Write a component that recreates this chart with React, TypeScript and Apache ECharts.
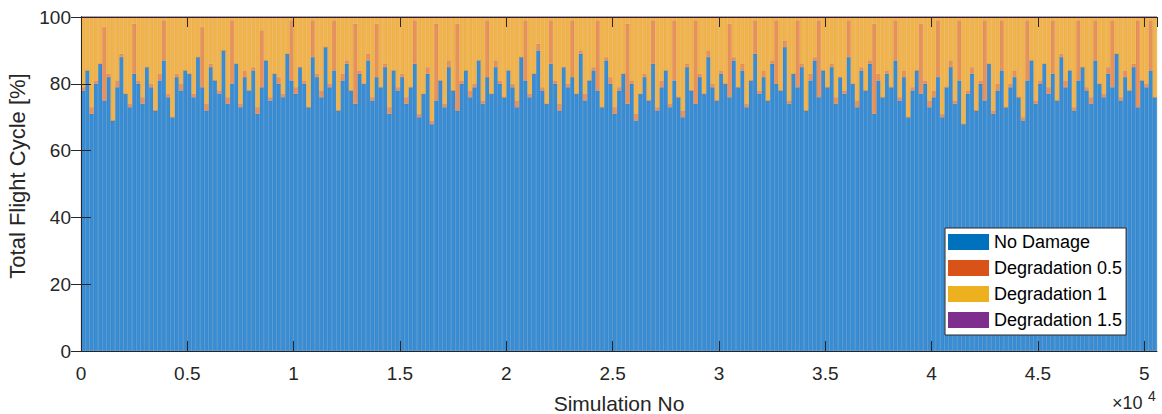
import React, { useEffect, useRef } from "react";
import * as echarts from "echarts";

// Each bar = one bin of 200 simulations (bin centre = simulation number)
const BIN_SIZE = 200;
const X_MAX = 50600;
const X_TICKS = [0, 5000, 10000, 15000, 20000, 25000, 30000, 35000, 40000, 45000, 50000];
const Y_TICKS = [0, 20, 40, 60, 80, 100];

const seriesNames = ["No Damage", "Degradation 0.5", "Degradation 1", "Degradation 1.5"];

// % of total flight cycles with no damage, per simulation bin
const noDamage = [
  78, 84, 71, 80, 86, 75, 82, 69, 79, 88, 77, 73, 83, 80, 74, 85, 79, 72, 81, 87, 76, 70, 82, 78, 84,
  83, 76, 88, 79, 72, 85, 81, 77, 90, 74, 80, 86, 73, 82, 78, 84, 71, 79, 87, 75, 83, 80, 76, 89, 81,
  77, 85, 80, 73, 88, 82, 76, 91, 79, 84, 72, 81, 86, 78, 74, 83, 80, 87, 75, 82, 79, 85, 71, 84, 78,
  82, 74, 79, 86, 70, 77, 83, 68, 75, 81, 73, 85, 78, 72, 80, 84, 76, 79, 87, 74, 82, 77, 85, 80, 76,
  84, 79, 73, 88, 81, 76, 83, 90, 78, 74, 86, 80, 72, 85, 79, 82, 77, 89, 75, 81, 84, 78, 73, 87, 80,
  71, 78, 83, 74, 80, 69, 77, 82, 75, 86, 72, 79, 84, 73, 81, 76, 70, 85, 78, 74, 82, 77, 88, 79, 75,
  83, 80, 76, 87, 79, 84, 73, 81, 89, 77, 82, 75, 86, 80, 78, 91, 74, 83, 79, 85, 72, 81, 87, 76, 84,
  79, 85, 74, 82, 77, 88, 80, 73, 84, 78, 86, 71, 81, 76, 83, 79, 87, 75, 82, 70, 78, 84, 77, 80, 73,
  76, 82, 70, 79, 85, 74, 81, 68, 77, 83, 72, 80, 75, 86, 71, 78, 84, 73, 79, 82, 76, 69, 81, 87, 74,
  80, 86, 77, 83, 75, 88, 79, 84, 72, 81, 85, 78, 74, 87, 80, 76, 83, 79, 89, 75, 82, 78, 85, 73, 81,
  79, 84, 76,
];

// % with degradation level 0.5
const degradation05 = [
  1, 0, 2, 1, 0, 22, 1, 0, 2, 1, 0, 1, 15, 1, 2, 0, 1, 0, 2, 12, 1, 0, 1, 2, 0,
  0, 1, 0, 18, 2, 1, 0, 1, 0, 2, 19, 0, 1, 2, 0, 1, 2, 17, 0, 1, 0, 2, 1, 0, 18,
  2, 0, 1, 0, 11, 1, 2, 0, 1, 15, 0, 2, 1, 0, 24, 1, 0, 2, 1, 16, 0, 1, 2, 0, 1,
  1, 2, 0, 13, 1, 0, 2, 1, 23, 0, 1, 2, 0, 26, 1, 0, 2, 1, 0, 1, 17, 0, 2, 1, 0,
  0, 1, 2, 0, 18, 1, 0, 2, 1, 0, 13, 1, 2, 0, 1, 17, 0, 1, 2, 0, 1, 21, 0, 1, 2,
  2, 1, 0, 24, 1, 2, 0, 1, 0, 13, 1, 2, 0, 1, 18, 0, 2, 1, 0, 25, 1, 0, 2, 1, 0,
  1, 0, 22, 1, 0, 2, 1, 0, 10, 1, 2, 0, 1, 19, 0, 2, 1, 0, 20, 1, 0, 2, 1, 23, 0,
  0, 1, 2, 0, 1, 11, 0, 2, 1, 0, 1, 27, 2, 0, 1, 0, 12, 1, 2, 0, 1, 0, 21, 1, 2,
  2, 17, 1, 0, 2, 1, 18, 0, 1, 2, 0, 1, 24, 0, 1, 2, 15, 0, 1, 2, 0, 1, 18, 0, 1,
  1, 0, 2, 16, 0, 1, 2, 0, 1, 18, 0, 1, 2, 12, 0, 1, 2, 20, 0, 1, 2, 0, 1, 26, 0,
  1, 15, 0,
];

// % with degradation level 1.5 (not visible in the figure)
const degradation15 = [
  0, 0, 0, 0, 0, 0, 0, 0, 0, 0, 0, 0, 0, 0, 0, 0, 0, 0, 0, 0, 0, 0, 0, 0, 0,
  0, 0, 0, 0, 0, 0, 0, 0, 0, 0, 0, 0, 0, 0, 0, 0, 0, 0, 0, 0, 0, 0, 0, 0, 0,
  0, 0, 0, 0, 0, 0, 0, 0, 0, 0, 0, 0, 0, 0, 0, 0, 0, 0, 0, 0, 0, 0, 0, 0, 0,
  0, 0, 0, 0, 0, 0, 0, 0, 0, 0, 0, 0, 0, 0, 0, 0, 0, 0, 0, 0, 0, 0, 0, 0, 0,
  0, 0, 0, 0, 0, 0, 0, 0, 0, 0, 0, 0, 0, 0, 0, 0, 0, 0, 0, 0, 0, 0, 0, 0, 0,
  0, 0, 0, 0, 0, 0, 0, 0, 0, 0, 0, 0, 0, 0, 0, 0, 0, 0, 0, 0, 0, 0, 0, 0, 0,
  0, 0, 0, 0, 0, 0, 0, 0, 0, 0, 0, 0, 0, 0, 0, 0, 0, 0, 0, 0, 0, 0, 0, 0, 0,
  0, 0, 0, 0, 0, 0, 0, 0, 0, 0, 0, 0, 0, 0, 0, 0, 0, 0, 0, 0, 0, 0, 0, 0, 0,
  0, 0, 0, 0, 0, 0, 0, 0, 0, 0, 0, 0, 0, 0, 0, 0, 0, 0, 0, 0, 0, 0, 0, 0, 0,
  0, 0, 0, 0, 0, 0, 0, 0, 0, 0, 0, 0, 0, 0, 0, 0, 0, 0, 0, 0, 0, 0, 0, 0, 0,
  0, 0, 0,
];

// Degradation 1 = the remainder of each bin's 100 %
const degradation1 = noDamage.map((v, i) => 100 - v - degradation05[i] - degradation15[i]);

const simulationNo = noDamage.map((_, i) => String(BIN_SIZE / 2 + i * BIN_SIZE));

const FONT = "'Liberation Sans', Arial, Helvetica, sans-serif";
const TXT = "#262626";

const legendColors = ["#0072BD", "#D95319", "#EDB120", "#7E2F8E"];
const barColors = ["#3a8dd2", "#e6925a", "#f1b44c", "#7E2F8E"];
const barBorders = ["#2f7dc0", "#d8804a", "#e3a440", "#6a2577"];

export default function App() {
  const ref = useRef<HTMLDivElement>(null);
  useEffect(() => {
    if (!ref.current) return;
    const chart = echarts.init(ref.current, undefined, { renderer: "svg" });
    const values = [noDamage, degradation05, degradation1, degradation15];
    const tick = { show: true, inside: true, length: 10, lineStyle: { color: TXT, width: 1 } };
    const line = { show: true, lineStyle: { color: TXT, width: 1 } };
    chart.setOption({
      animation: false,
      backgroundColor: "#ffffff",
      grid: { left: 81, right: 5, top: 17, bottom: 63, containLabel: false, outerBoundsMode: "none" },
      legend: {
        orient: "vertical",
        left: 945,
        top: 228,
        itemWidth: 41,
        itemHeight: 16,
        itemGap: 8,
        padding: [5, 4, 6, 3],
        backgroundColor: "#ffffff",
        borderColor: TXT,
        borderWidth: 1,
        borderRadius: 0,
        icon: "rect",
        z: 20,
        textStyle: { fontSize: 18, color: "#000", fontFamily: FONT },
        data: seriesNames.map((n, i) => ({ name: n, itemStyle: { color: legendColors[i], borderWidth: 0 } })),
      },
      xAxis: [
        {
          type: "category",
          data: simulationNo,
          boundaryGap: true,
          show: false,
        },
        {
          type: "value",
          position: "bottom",
          min: 0,
          max: X_MAX,
          interval: 5000,
          z: 10,
          axisLine: line,
          splitLine: { show: false },
          name: "Simulation No",
          nameLocation: "middle",
          nameGap: 42,
          nameTextStyle: { fontSize: 21, color: TXT, fontFamily: FONT },
          axisTick: tick,
          axisLabel: {
            fontSize: 19,
            color: TXT,
            fontFamily: FONT,
            margin: 13,
            showMaxLabel: false,
            formatter: (v: number) => (X_TICKS.includes(v) ? String(v / 10000) : ""),
          },
        },
        {
          type: "value",
          position: "top",
          min: 0,
          max: X_MAX,
          interval: 5000,
          z: 10,
          axisLine: line,
          splitLine: { show: false },
          axisTick: tick,
          axisLabel: { show: false },
        },
      ],
      yAxis: [
        {
          type: "value",
          min: 0,
          max: 100,
          interval: 20,
          z: 10,
          axisLine: line,
          splitLine: { show: false },
          name: "Total Flight Cycle [%]",
          nameLocation: "middle",
          nameGap: 48,
          nameTextStyle: { fontSize: 22, color: TXT, fontFamily: FONT, padding: [0, 0, 0, 16] },
          axisTick: tick,
          axisLabel: {
            fontSize: 19,
            color: TXT,
            fontFamily: FONT,
            margin: 10,
            formatter: (v: number) => (Y_TICKS.includes(v) ? String(v) : ""),
          },
        },
        {
          type: "value",
          position: "right",
          min: 0,
          max: 100,
          interval: 20,
          z: 10,
          axisLine: line,
          splitLine: { show: false },
          axisTick: tick,
          axisLabel: { show: false },
        },
      ],
      series: seriesNames.map((name, si) => ({
        name,
        type: "bar",
        stack: "total",
        xAxisIndex: 0,
        yAxisIndex: 0,
        barWidth: "100%",
        barCategoryGap: 0,
        itemStyle: { color: barColors[si], borderColor: barBorders[si], borderWidth: 0.5 },
        emphasis: { disabled: true },
        data: values[si],
      })),
      graphic: [
        {
          type: "text",
          left: 1112,
          top: 394,
          z: 30,
          style: { text: "×10", fontSize: 18, fill: TXT, fontFamily: FONT },
        },
        {
          type: "text",
          left: 1148,
          top: 389,
          z: 30,
          style: { text: "4", fontSize: 14, fill: TXT, fontFamily: FONT },
        },
      ],
    });
    return () => chart.dispose();
  }, []);
  return <div ref={ref} style={{ width: 1162, height: 414, position: "absolute", left: 0, top: 0 }} />;
}
